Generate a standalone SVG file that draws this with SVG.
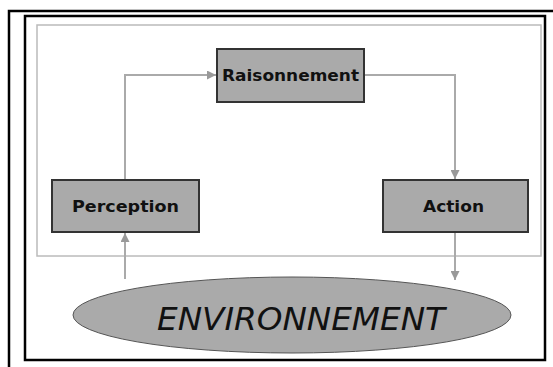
<svg xmlns="http://www.w3.org/2000/svg" width="553" height="367" viewBox="0 0 553 367">
<style>
.frame{fill:none;stroke:#000;stroke-width:2.5}
.panel{fill:#fff;stroke:#bbb;stroke-width:1.5}
.box{fill:#aaaaaa;stroke:#333;stroke-width:2}
.lbl{font-family:"DejaVu Sans",Verdana,sans-serif;font-weight:bold;font-size:16px;fill:#111;text-anchor:middle}
.conn{fill:none;stroke:#aaa;stroke-width:2}
.env{fill:#aaaaaa;stroke:#555;stroke-width:1}
.envt{font-family:"DejaVu Sans",Verdana,sans-serif;font-style:oblique;font-size:32px;fill:#111;text-anchor:middle}
</style>
<defs>
<marker id="arr" viewBox="0 0 10 10" refX="10" refY="5" markerWidth="5" markerHeight="4.5" orient="auto" markerUnits="strokeWidth">
<path d="M0,0 L10,5 L0,10 z" fill="#999"/>
</marker>
</defs>
<rect width="553" height="367" fill="#fff"/>
<rect class="frame" x="9" y="11" width="560" height="370"/>
<rect class="frame" x="25" y="16" width="520" height="344"/>
<rect class="panel" x="37" y="25" width="504" height="231"/>
<g id="connectors">
<polyline class="conn" points="125,180 125,75 216,75" marker-end="url(#arr)"/>
<polyline class="conn" points="364,75 455,75 455,179" marker-end="url(#arr)"/>
<line class="conn" x1="125" y1="279" x2="125" y2="233" marker-end="url(#arr)"/>
<line class="conn" x1="455" y1="233" x2="455" y2="280" marker-end="url(#arr)"/>
</g>
<g id="raisonnement">
<rect class="box" x="217" y="49" width="147" height="53"/>
<text class="lbl" x="290.5" y="81" textLength="137" lengthAdjust="spacingAndGlyphs">Raisonnement</text>
</g>
<g id="perception">
<rect class="box" x="52" y="180" width="147" height="52"/>
<text class="lbl" x="125.5" y="212" font-size="17" textLength="107" lengthAdjust="spacingAndGlyphs">Perception</text>
</g>
<g id="action">
<rect class="box" x="383" y="180" width="145" height="52"/>
<text class="lbl" x="453.5" y="212" font-size="17" textLength="61" lengthAdjust="spacingAndGlyphs">Action</text>
</g>
<g id="environnement">
<ellipse class="env" cx="292" cy="315" rx="219" ry="38"/>
<text class="envt" x="301" y="330" textLength="288" lengthAdjust="spacingAndGlyphs">ENVIRONNEMENT</text>
</g>
</svg>
